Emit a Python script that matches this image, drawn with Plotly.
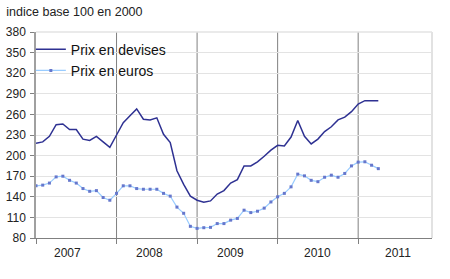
import plotly.graph_objects as go

# Monthly index values, Jan 2007 .. Apr 2011 (indice base 100 en 2000)
months = [f"{y}-{m:02d}" for y in range(2007, 2012) for m in range(1, 13)][:52]

prix_devises = [218, 220, 228, 245, 246, 238, 238, 224, 222, 228, 220, 212,
                230, 248, 258, 268, 253, 252, 255, 231, 219, 178, 158, 141,
                135, 132, 134, 144, 149, 160, 165, 185, 185, 191, 199, 208,
                215, 214, 227, 251, 228, 217, 224, 235, 242, 252, 256, 264,
                275, 280, 280, 280]

prix_euros = [156, 157, 160, 169, 170, 164, 160, 152, 148, 149, 139, 135,
              145, 156, 156, 152, 151, 151, 151, 145, 141, 125, 116, 97,
              94, 95, 95.5, 101, 101, 106, 108.5, 120.5, 117, 119, 123.5, 132.5,
              140, 145, 154.5, 173, 170.5, 164, 162, 168.5, 171.5, 168.5, 174, 185,
              190.5, 191, 186, 181]

years = ["2007", "2008", "2009", "2010", "2011"]
year_label_pos = [4.7, 16.9, 29.0, 42.0, 53.9]
year_bounds = [12, 24, 36, 48]
y_ticks = list(range(80, 381, 30))

x_idx = list(range(len(prix_devises)))

fig = go.Figure()
fig.add_trace(go.Scatter(
    x=x_idx, y=prix_devises, mode="lines", name="Prix en devises",
    line=dict(color="#2E3192", width=1.5),
    hovertext=months,
))
fig.add_trace(go.Scatter(
    x=x_idx, y=prix_euros, mode="lines+markers", name="Prix en euros",
    line=dict(color="#99CCFF", width=1.2),
    marker=dict(color="#6677CC", size=3, symbol="square"),
    hovertext=months,
))

shapes = []
# white box behind legend (covers gridlines)
shapes.append(dict(type="rect", xref="paper", yref="paper", x0=0, x1=0.369,
                   y0=0.762, y1=1, fillcolor="white", line=dict(width=0),
                   layer="between"))
for b in year_bounds:
    shapes.append(dict(type="line", xref="x", yref="paper", x0=b, x1=b,
                       y0=0, y1=1, line=dict(color="#808080", width=1),
                       layer="between"))
# right & top border
shapes.append(dict(type="line", xref="paper", yref="paper", x0=1, x1=1, y0=0, y1=1,
                   line=dict(color="#D9D9D9", width=1.5), layer="between"))
shapes.append(dict(type="line", xref="paper", yref="paper", x0=0, x1=1, y0=1, y1=1,
                   line=dict(color="#E3E3E3", width=1.5), layer="between"))

annotations = []
for lbl, pos in zip(years, year_label_pos):
    annotations.append(dict(x=pos, y=-0.075, xref="x", yref="paper",
                            yanchor="middle", text=lbl, showarrow=False,
                            font=dict(family="Liberation Sans, Arial", size=12, color="#222222")))

fig.update_layout(
    width=450, height=279,
    margin=dict(l=36, r=18, t=32, b=41, autoexpand=False),
    paper_bgcolor="white", plot_bgcolor="white",
    font=dict(family="Liberation Sans, Arial", size=12, color="#222222"),
    title=dict(text="indice base 100 en 2000", xref="container", yref="container",
               x=0.014, xanchor="left", y=1 - 11.5 / 279, yanchor="middle",
               font=dict(size=12.5, color="#222222")),
    xaxis=dict(range=[0, 59], showgrid=False, zeroline=False, automargin=False,
               tickvals=[0] + year_bounds, ticktext=[""] * 5,
               ticks="outside", ticklen=5, tickcolor="#808080",
               showline=True, linecolor="#808080", linewidth=1),
    yaxis=dict(range=[80, 380], tickvals=y_ticks, showgrid=True, automargin=False,
               gridcolor="#E3E3E3", gridwidth=1, zeroline=False,
               ticks="outside", ticklen=4, tickcolor="#808080",
               ticklabelstandoff=2,
               showline=True, linecolor="#A0A0A0", linewidth=1.5,
               tickfont=dict(size=12, color="#222222")),
    legend=dict(x=-0.013, xanchor="left", y=0.992, yanchor="top",
                bgcolor="rgba(0,0,0,0)", borderwidth=0,
                font=dict(size=14, color="#111111"), tracegroupgap=0),
    shapes=shapes,
    annotations=annotations,
    showlegend=True,
)

fig.write_html("out.html")
